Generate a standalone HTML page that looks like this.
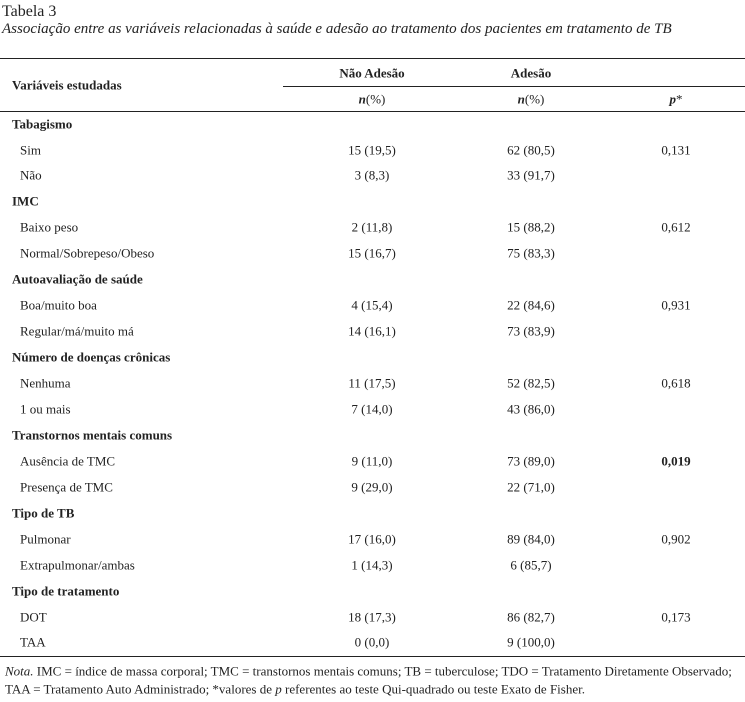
<!DOCTYPE html>
<html><head><meta charset="utf-8"><style>
body{margin:0;width:745px;height:702px;background:#fff;font-family:"Liberation Serif",serif;color:#222;position:relative;overflow:hidden}
div{position:absolute;white-space:nowrap;line-height:1}
.t{font-size:13px;transform:translateY(-50%)}
.b{font-weight:bold}
.c{transform:translate(-50%,-50%)}
.r{position:absolute;height:1.3px;background:#222}
</style></head><body>
<div style="left:2px;top:4px;font-size:16px">Tabela 3</div>
<div style="left:2px;top:22px;font-size:15px;font-style:italic">Associação entre as variáveis relacionadas à saúde e adesão ao tratamento dos pacientes em tratamento de TB</div>
<div class="r" style="left:0;width:745px;top:58px"></div>
<div class="t b c" style="left:372px;top:73px">Não Adesão</div>
<div class="t b c" style="left:531px;top:73px">Adesão</div>
<div class="t b" style="left:12px;top:85px">Variáveis estudadas</div>
<div class="r" style="left:283px;width:462px;top:86px"></div>
<div class="t c" style="left:372px;top:99px"><b><i>n</i></b>(%)</div>
<div class="t c" style="left:531px;top:99px"><b><i>n</i></b>(%)</div>
<div class="t c" style="left:676px;top:99px"><b><i>p</i></b>*</div>
<div class="r" style="left:0;width:745px;top:111px"></div>

<div class="t b" style="left:12px;top:124px">Tabagismo</div>
<div class="t" style="left:20px;top:150px">Sim</div><div class="t c" style="left:372px;top:150px">15 (19,5)</div><div class="t c" style="left:531px;top:150px">62 (80,5)</div><div class="t c" style="left:676px;top:150px">0,131</div>
<div class="t" style="left:20px;top:175px">Não</div><div class="t c" style="left:372px;top:175px">3 (8,3)</div><div class="t c" style="left:531px;top:175px">33 (91,7)</div>
<div class="t b" style="left:12px;top:201px">IMC</div>
<div class="t" style="left:20px;top:227px">Baixo peso</div><div class="t c" style="left:372px;top:227px">2 (11,8)</div><div class="t c" style="left:531px;top:227px">15 (88,2)</div><div class="t c" style="left:676px;top:227px">0,612</div>
<div class="t" style="left:20px;top:253px">Normal/Sobrepeso/Obeso</div><div class="t c" style="left:372px;top:253px">15 (16,7)</div><div class="t c" style="left:531px;top:253px">75 (83,3)</div>
<div class="t b" style="left:12px;top:279px">Autoavaliação de saúde</div>
<div class="t" style="left:20px;top:305px">Boa/muito boa</div><div class="t c" style="left:372px;top:305px">4 (15,4)</div><div class="t c" style="left:531px;top:305px">22 (84,6)</div><div class="t c" style="left:676px;top:305px">0,931</div>
<div class="t" style="left:20px;top:331px">Regular/má/muito má</div><div class="t c" style="left:372px;top:331px">14 (16,1)</div><div class="t c" style="left:531px;top:331px">73 (83,9)</div>
<div class="t b" style="left:12px;top:357px">Número de doenças crônicas</div>
<div class="t" style="left:20px;top:383px">Nenhuma</div><div class="t c" style="left:372px;top:383px">11 (17,5)</div><div class="t c" style="left:531px;top:383px">52 (82,5)</div><div class="t c" style="left:676px;top:383px">0,618</div>
<div class="t" style="left:20px;top:409px">1 ou mais</div><div class="t c" style="left:372px;top:409px">7 (14,0)</div><div class="t c" style="left:531px;top:409px">43 (86,0)</div>
<div class="t b" style="left:12px;top:435px">Transtornos mentais comuns</div>
<div class="t" style="left:20px;top:461px">Ausência de TMC</div><div class="t c" style="left:372px;top:461px">9 (11,0)</div><div class="t c" style="left:531px;top:461px">73 (89,0)</div><div class="t c b" style="left:676px;top:461px">0,019</div>
<div class="t" style="left:20px;top:487px">Presença de TMC</div><div class="t c" style="left:372px;top:487px">9 (29,0)</div><div class="t c" style="left:531px;top:487px">22 (71,0)</div>
<div class="t b" style="left:12px;top:513px">Tipo de TB</div>
<div class="t" style="left:20px;top:539px">Pulmonar</div><div class="t c" style="left:372px;top:539px">17 (16,0)</div><div class="t c" style="left:531px;top:539px">89 (84,0)</div><div class="t c" style="left:676px;top:539px">0,902</div>
<div class="t" style="left:20px;top:565px">Extrapulmonar/ambas</div><div class="t c" style="left:372px;top:565px">1 (14,3)</div><div class="t c" style="left:531px;top:565px">6 (85,7)</div>
<div class="t b" style="left:12px;top:591px">Tipo de tratamento</div>
<div class="t" style="left:20px;top:617px">DOT</div><div class="t c" style="left:372px;top:617px">18 (17,3)</div><div class="t c" style="left:531px;top:617px">86 (82,7)</div><div class="t c" style="left:676px;top:617px">0,173</div>
<div class="t" style="left:20px;top:642px">TAA</div><div class="t c" style="left:372px;top:642px">0 (0,0)</div><div class="t c" style="left:531px;top:642px">9 (100,0)</div>
<div class="r" style="left:0;width:745px;top:656px"></div>
<div class="t" style="left:5px;top:671px;font-size:13px"><i>Nota.</i> IMC = índice de massa corporal; TMC = transtornos mentais comuns; TB = tuberculose; TDO = Tratamento Diretamente Observado;</div>
<div class="t" style="left:5px;top:689px;font-size:13px">TAA = Tratamento Auto Administrado; *valores de <i>p</i> referentes ao teste Qui-quadrado ou teste Exato de Fisher.</div>
</body></html>
